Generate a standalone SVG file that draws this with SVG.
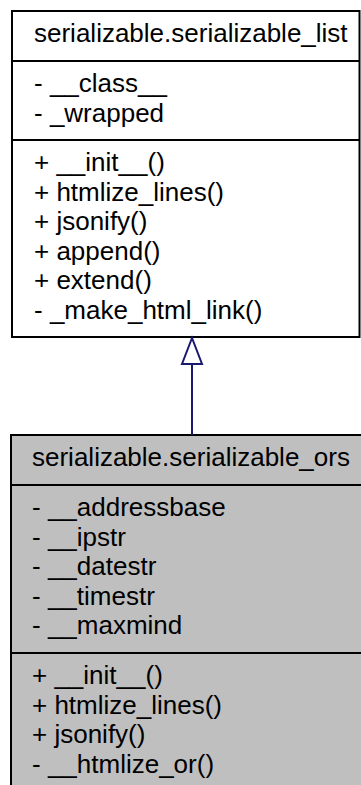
<svg xmlns="http://www.w3.org/2000/svg" width="361" height="785" viewBox="0 0 361 785">
<style>
.box{stroke:#000;stroke-width:2}
.top{fill:#fff}
.cur{fill:#bfbfbf}
.div{stroke:#000;stroke-width:2}
text{font-family:"Liberation Sans",Arial,Helvetica,sans-serif;font-size:26px;fill:#000}
.edge{stroke:#191970;stroke-width:2;fill:none}
.head{stroke:#191970;stroke-width:2;fill:#fff}
</style>
<rect width="361" height="785" fill="#fff"/>
<g id="node_serializable_list">
<rect class="box top" x="12" y="11" width="347.5" height="326"/>
<line class="div" x1="12" y1="61" x2="359.5" y2="61"/>
<line class="div" x1="12" y1="140" x2="359.5" y2="140"/>
<text x="34" y="42">serializable.serializable_list</text>
<text x="34" y="92">- __class__</text>
<text x="34" y="121.5">- _wrapped</text>
<text x="34" y="171">+ __init__()</text>
<text x="34" y="200.5">+ htmlize_lines()</text>
<text x="34" y="230">+ jsonify()</text>
<text x="34" y="259.5">+ append()</text>
<text x="34" y="289">+ extend()</text>
<text x="34" y="318.5">- _make_html_link()</text>
</g>
<g id="node_serializable_ors">
<rect class="box cur" x="11" y="435" width="370" height="400"/>
<line class="div" x1="11" y1="485" x2="381" y2="485"/>
<line class="div" x1="11" y1="653" x2="381" y2="653"/>
<text x="32" y="466">serializable.serializable_ors</text>
<text x="32" y="516">- __addressbase</text>
<text x="32" y="545.5">- __ipstr</text>
<text x="32" y="575">- __datestr</text>
<text x="32" y="604.5">- __timestr</text>
<text x="32" y="634">- __maxmind</text>
<text x="32" y="684">+ __init__()</text>
<text x="32" y="713.5">+ htmlize_lines()</text>
<text x="32" y="743">+ jsonify()</text>
<text x="32" y="772.5">- __htmlize_or()</text>
</g>
<g id="connectors">
<line class="edge" x1="192" y1="364" x2="192" y2="435"/>
<polygon class="head" points="192,338 182,364 202,364"/>
</g>
</svg>
